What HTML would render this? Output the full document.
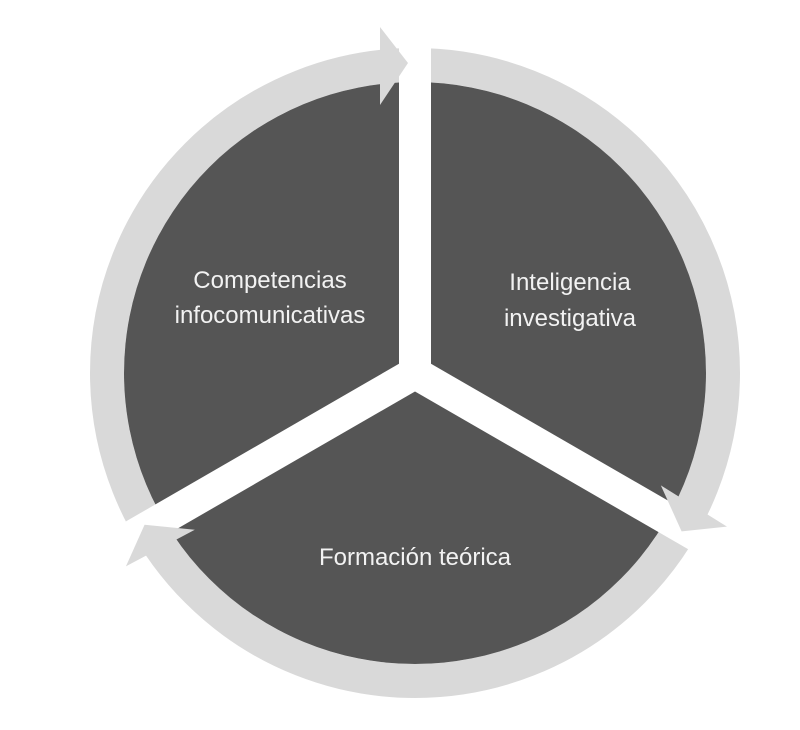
<!DOCTYPE html>
<html><head><meta charset="utf-8"><style>
html,body{margin:0;padding:0;background:#fff;}
svg{display:block;}
text{font-family:"Liberation Sans",sans-serif;font-size:24px;fill:#f2f2f2;text-anchor:middle;}
</style></head><body>
<svg width="800" height="730" viewBox="0 0 800 730">
<circle cx="415" cy="373" r="308" fill="none" stroke="#d9d9d9" stroke-width="34"/>
<circle cx="415" cy="373" r="291" fill="#555555"/>
<g stroke="#fff" stroke-width="32">
<line x1="415" y1="373" x2="415" y2="20"/>
<line x1="415" y1="373" x2="415" y2="20" transform="rotate(120 415 373)"/>
<line x1="415" y1="373" x2="415" y2="20" transform="rotate(240 415 373)"/>
</g>
<g fill="#d9d9d9">
<polygon points="380,27 408,63 380,105"/>
<polygon points="380,27 408,63 380,105" transform="rotate(122 415 373)"/>
<polygon points="380,27 408,63 380,105" transform="rotate(242 415 373)"/>
</g>
<text x="270" y="288">Competencias</text>
<text x="270" y="323">infocomunicativas</text>
<text x="570" y="290">Inteligencia</text>
<text x="570" y="326">investigativa</text>
<text x="415" y="565">Formación teórica</text>
</svg>
</body></html>
